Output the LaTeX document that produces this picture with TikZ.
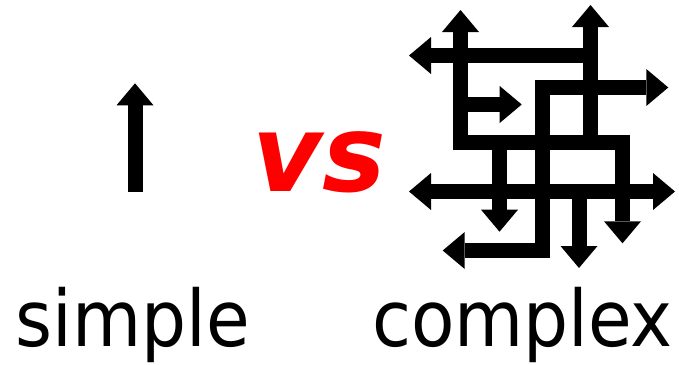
\documentclass[tikz,border=0pt]{standalone}
\usepackage{fontspec}
\setmainfont{DejaVu Sans}
\newfontfamily\narrowfont[FakeStretch=0.91]{DejaVu Sans}
\usepackage{xcolor}
\usetikzlibrary{arrows.meta}
\definecolor{vsred}{HTML}{FF0000}

\begin{document}
\begin{tikzpicture}[x=1pt, y=-1pt,
  route/.style={line width=15pt, line join=miter},
  onetip/.style={route, -{Triangle[width=37pt, length=22pt, line width=0pt]}},
  twotips/.style={route, {Triangle[width=37pt, length=22pt, line width=0pt]}-{Triangle[width=37pt, length=22pt, line width=0pt]}},
  caption/.style={anchor=base, inner sep=0pt, font=\narrowfont\fontsize{78}{80}\selectfont},
]
  \useasboundingbox (0,0) rectangle (679,364);

  % the simple one
  \draw[onetip] (135,191.7) -- (135,83.3);

  % the complex one
  \draw[twotips] (460.5,10) -- (460.5,142.5) -- (622.5,142.5) -- (622.5,243.3);
  \draw[onetip] (590.5,55.5) -- (409,55.5);
  \draw[onetip] (590.5,142.5) -- (590.5,5);
  \draw[twotips] (442.7,250.5) -- (542.5,250.5) -- (542.5,87.5) -- (668.3,87.5);
  \draw[onetip] (460.5,104.5) -- (521.7,104.5);
  \draw[twotips] (409,191.5) -- (675,191.5);
  \draw[onetip] (499.5,142.5) -- (499.5,231.7);
  \draw[onetip] (579,191.5) -- (579,268);

  \node[anchor=base, inner sep=0pt, text=vsred,
    font=\fontsize{107}{110}\selectfont\bfseries\itshape] (vs) at (319,191.7) {vs};
  \node[caption] (simple) at (132.5,346) {simple};
  \node[caption] (complex) at (522.5,346) {complex};
\end{tikzpicture}
\end{document}
